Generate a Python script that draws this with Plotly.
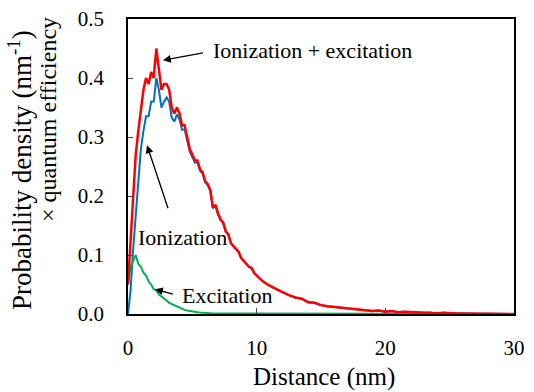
import plotly.graph_objects as go

distance = [0.0, 0.2, 0.4, 0.6, 0.8, 1.0, 1.2, 1.4, 1.6, 1.8,
            2.0, 2.2, 2.4, 2.6, 2.8, 3.0, 3.2, 3.4, 3.6, 3.8,
            4.0, 4.2, 4.4, 4.6, 4.8, 5.0, 5.2, 5.4, 5.6, 5.8,
            6.0, 6.2, 6.4, 6.6, 6.8, 7.0, 7.2, 7.4, 7.6, 7.8,
            8.0, 8.2, 8.4, 8.6, 8.8, 9.0, 9.2, 9.4, 9.6, 9.8,
            10.0, 10.5, 11.0, 11.5, 12.0, 12.5, 13.0, 13.5, 14.0, 14.5,
            15.0, 15.5, 16.0, 16.5, 17.0, 17.5, 18.0, 18.5, 19.0, 19.5,
            20.0, 20.5, 21.0, 21.5, 22.0, 22.5, 23.0, 23.5, 24.0, 24.5,
            25.0, 25.5, 26.0, 26.5, 27.0, 27.5, 28.0, 28.5, 29.0, 29.5, 30.0]

total = [0.05, 0.12, 0.20, 0.27, 0.31, 0.35, 0.38, 0.40, 0.39, 0.41,
         0.40, 0.45, 0.41, 0.38, 0.39, 0.39, 0.38, 0.35, 0.34, 0.35,
         0.34, 0.32, 0.32, 0.30, 0.28, 0.27, 0.26, 0.26, 0.245, 0.24,
         0.225, 0.22, 0.21, 0.18, 0.185, 0.17, 0.16, 0.155, 0.14, 0.135,
         0.12, 0.115, 0.11, 0.105, 0.095, 0.09, 0.085, 0.08, 0.078, 0.07,
         0.065, 0.055, 0.048, 0.042, 0.037, 0.032, 0.028, 0.026, 0.020, 0.019,
         0.015, 0.013, 0.012, 0.010, 0.009, 0.008, 0.007, 0.006, 0.005, 0.006,
         0.004, 0.005, 0.003, 0.004, 0.003, 0.002, 0.002, 0.002, 0.001, 0.002,
         0.001, 0.001, 0.001, 0.0005, 0.001, 0.0005, 0.0005, 0.0005, 0.0, 0.0005, 0.0]

excitation = [0.05, 0.08, 0.09, 0.10, 0.085, 0.08, 0.07, 0.065, 0.055, 0.05,
              0.042, 0.04, 0.033, 0.03, 0.026, 0.023, 0.019, 0.017, 0.014, 0.012,
              0.010, 0.008, 0.007, 0.006, 0.005, 0.004, 0.0035, 0.003, 0.0025, 0.002,
              0.002, 0.0015, 0.0015, 0.001, 0.001, 0.001, 0.001, 0.0005, 0.0005, 0.0005,
              0.0005, 0.0005, 0.0005, 0.0, 0.0005, 0.0, 0.0, 0.0, 0.0, 0.0,
              0.0, 0.0, 0.0, 0.0, 0.0, 0.0, 0.0, 0.0, 0.0, 0.0,
              0.0, 0.0, 0.0, 0.0, 0.0, 0.0, 0.0, 0.0, 0.0, 0.0,
              0.0, 0.0, 0.0, 0.0, 0.0, 0.0, 0.0, 0.0, 0.0, 0.0,
              0.0, 0.0, 0.0, 0.0, 0.0, 0.0, 0.0, 0.0, 0.0, 0.0, 0.0]

ionization = [0.0, 0.04, 0.11, 0.17, 0.22, 0.28, 0.31, 0.335, 0.335, 0.36,
              0.36, 0.40, 0.38, 0.35, 0.36, 0.367, 0.36, 0.333, 0.326, 0.338,
              0.33, 0.312, 0.313, 0.294, 0.275, 0.266, 0.2565, 0.257, 0.2425, 0.238,
              0.223, 0.2185, 0.2085, 0.179, 0.184, 0.169, 0.159, 0.1545, 0.1395, 0.1345,
              0.1195, 0.1145, 0.1095, 0.105, 0.0945, 0.09, 0.085, 0.08, 0.078, 0.07,
              0.065, 0.055, 0.048, 0.042, 0.037, 0.032, 0.028, 0.026, 0.020, 0.019,
              0.015, 0.013, 0.012, 0.010, 0.009, 0.008, 0.007, 0.006, 0.005, 0.006,
              0.004, 0.005, 0.003, 0.004, 0.003, 0.002, 0.002, 0.002, 0.001, 0.002,
              0.001, 0.001, 0.001, 0.0005, 0.001, 0.0005, 0.0005, 0.0005, 0.0, 0.0005, 0.0]

x_ticks = [0, 10, 20, 30]
y_ticks = [0.0, 0.1, 0.2, 0.3, 0.4, 0.5]
y_tick_text = ["0.0", "0.1", "0.2", "0.3", "0.4", "0.5"]

FONT = "Liberation Serif, Times New Roman, serif"

fig = go.Figure()
fig.add_trace(go.Scatter(x=distance, y=ionization, mode="lines",
                         line=dict(color="#0070C0", width=2), name="Ionization"))
fig.add_trace(go.Scatter(x=distance, y=excitation, mode="lines",
                         line=dict(color="#00B050", width=2), name="Excitation"))
fig.add_trace(go.Scatter(x=distance, y=total, mode="lines",
                         line=dict(color="#FF0000", width=2.5), name="Ionization + excitation"))

arrows = [
    dict(x=2.72, y=0.43, ax=6.14, ay=0.444),
    dict(x=1.48, y=0.286, ax=3.42, ay=0.159),
    dict(x=2.1, y=0.042, ax=3.8, ay=0.032),
]
for a in arrows:
    fig.add_annotation(x=a["x"], y=a["y"], ax=a["ax"], ay=a["ay"], xref="x", yref="y",
                       axref="x", ayref="y", text=" ", showarrow=True, arrowhead=2,
                       arrowsize=1.2, arrowwidth=1.3, arrowcolor="black")

labels = [
    dict(text="Ionization + excitation", x=14.34, y=0.446),
    dict(text="Ionization", x=4.27, y=0.1305),
    dict(text="Excitation", x=7.73, y=0.032),
]
for l in labels:
    fig.add_annotation(x=l["x"], y=l["y"], xref="x", yref="y", text=l["text"],
                       showarrow=False, font=dict(family=FONT, size=22, color="black"))

ytitle_lines = [
    dict(text="Probability density (nm<sup>-1</sup>)", x=-0.28, y=0.488, size=27),
    dict(text="× quantum efficiency", x=-0.207, y=0.658, size=24),
]
for t in ytitle_lines:
    fig.add_annotation(xref="paper", yref="paper", x=t["x"], y=t["y"],
                       xanchor="center", yanchor="middle", text=t["text"],
                       textangle=-90, showarrow=False,
                       font=dict(family=FONT, size=t["size"], color="black"))

fig.add_annotation(xref="paper", yref="paper", x=0.509, y=-0.2136,
                   xanchor="center", yanchor="middle", text="Distance (nm)",
                   showarrow=False, font=dict(family=FONT, size=25, color="black"))

fig.update_layout(
    width=534, height=392,
    margin=dict(l=128, r=20, t=19, b=78, autoexpand=False),
    paper_bgcolor="white", plot_bgcolor="white",
    showlegend=False,
    font=dict(family=FONT, size=21, color="black"),
    xaxis=dict(range=[0, 30], tickvals=x_ticks, ticks="inside", ticklen=6,
               showline=True, linecolor="black", linewidth=1.5, mirror=True,
               showgrid=False, zeroline=False, automargin=False,
               ticklabelstandoff=14,
               tickfont=dict(family=FONT, size=21)),
    yaxis=dict(range=[0, 0.5], tickvals=y_ticks, ticktext=y_tick_text, ticks="inside", ticklen=5,
               showline=True, linecolor="black", linewidth=1.5, mirror=True,
               showgrid=False, zeroline=False, automargin=False,
               ticklabelstandoff=18,
               tickfont=dict(family=FONT, size=21)),
)

fig.write_html("out.html", config={"displayModeBar": False},
               post_script="document.body.style.margin='0';document.body.style.overflow='hidden';")
